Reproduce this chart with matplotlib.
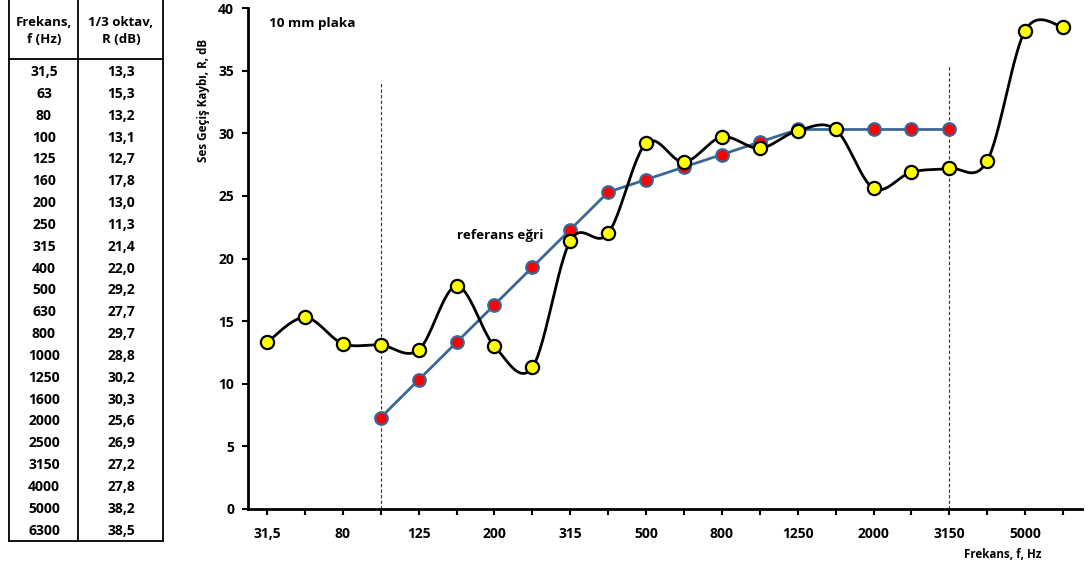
import numpy as np
import matplotlib
matplotlib.use("Agg")
import matplotlib.pyplot as plt
from matplotlib.lines import Line2D

plt.rcParams['font.family'] = ['Open Sans', 'DejaVu Sans']
plt.rcParams['font.weight'] = 'bold'

freq_labels = ["31,5", "63", "80", "100", "125", "160", "200", "250", "315", "400", "500",
               "630", "800", "1000", "1250", "1600", "2000", "2500", "3150", "4000", "5000", "6300"]
measured = [13.3, 15.3, 13.2, 13.1, 12.7, 17.8, 13.0, 11.3, 21.4, 22.0, 29.2,
            27.7, 29.7, 28.8, 30.2, 30.3, 25.6, 26.9, 27.2, 27.8, 38.2, 38.5]
ref_labels = ["100", "125", "160", "200", "250", "315", "400", "500",
              "630", "800", "1000", "1250", "1600", "2000", "2500", "3150"]
reference = [7.3, 10.3, 13.3, 16.3, 19.3, 22.3, 25.3, 26.3,
             27.3, 28.3, 29.3, 30.3, 30.3, 30.3, 30.3, 30.3]
shown_ticks = ["31,5", "80", "125", "200", "315", "500", "800", "1250", "2000", "3150", "5000"]
vline_labels = ["100", "3150"]
vline_tops = [34.2, 35.4]

W, H = 1086, 569
fig = plt.figure(figsize=(W / 100, H / 100), dpi=100)

def fx(px):
    return px / W

def fy(py):
    return 1 - py / H

ax = fig.add_axes([fx(248), fy(509), fx(1082) - fx(248), fy(8) - fy(509)])

xi = np.arange(len(freq_labels))
ref_x = np.array([freq_labels.index(l) for l in ref_labels])

def smooth(x, y, n=30):
    x = np.asarray(x, float); y = np.asarray(y, float)
    P = np.column_stack([x, y])
    out = []
    for i in range(len(P) - 1):
        p0 = P[i - 1] if i > 0 else P[i]
        p1 = P[i]; p2 = P[i + 1]
        p3 = P[i + 2] if i + 2 < len(P) else P[i + 1]
        c1 = p1 + (p2 - p0) / 6.0
        c2 = p2 - (p3 - p1) / 6.0
        t = np.linspace(0, 1, n)[:, None]
        seg = (1 - t) ** 3 * p1 + 3 * (1 - t) ** 2 * t * c1 + 3 * (1 - t) * t ** 2 * c2 + t ** 3 * p2
        out.append(seg if i == 0 else seg[1:])
    s = np.vstack(out)
    return s[:, 0], s[:, 1]

# vertical dashed lines
for lab, top in zip(vline_labels, vline_tops):
    xv = freq_labels.index(lab)
    ax.plot([xv, xv], [0, top], color='#333333', lw=0.8, ls=(0, (3, 2)), zorder=1)

# reference curve
ax.plot(ref_x, reference, color='#3A6795', lw=2.0, zorder=2,
        marker='o', markersize=9, markerfacecolor='#FF0000',
        markeredgecolor='#3A6795', markeredgewidth=1.6)

# measured curve (smoothed)
sx, sy = smooth(xi, measured)
ax.plot(sx, sy, color='black', lw=2.0, zorder=3)
ax.plot(xi, measured, ls='none', marker='o', markersize=9.5,
        markerfacecolor='#FFFF00', markeredgecolor='black', markeredgewidth=1.6, zorder=4)

ax.set_xlim(-0.5, len(freq_labels) - 0.5)
ax.set_ylim(0, 40)
ax.set_yticks(np.arange(0, 41, 5))
ax.set_xticks(xi)
ax.set_xticklabels([l if l in shown_ticks else "" for l in freq_labels])
for s in ['top', 'right']:
    ax.spines[s].set_visible(False)
for s in ['left', 'bottom']:
    ax.spines[s].set_linewidth(2.0)
    ax.spines[s].set_color('black')
ax.tick_params(axis='both', direction='out', length=4, width=1.5, labelsize=10)
ax.tick_params(axis='x', pad=9)
ax.tick_params(axis='y', pad=6)
for t in ax.get_xticklabels() + ax.get_yticklabels():
    t.set_fontweight('bold')

fig.text(fx(269), fy(24), "10 mm plaka", ha='left', va='center', fontsize=9.7, fontweight='bold')
fig.text(fx(500), fy(236), "referans eğri", ha='center', va='center', fontsize=9.7, fontweight='bold')
fig.text(fx(203), fy(100), "Ses Geçiş Kaybı, R, dB", rotation=90, ha='center', va='center',
         fontsize=8.4, fontweight='bold')
fig.text(fx(1003), fy(555), "Frekans, f, Hz", ha='center', va='center', fontsize=8.4, fontweight='bold')

# table on the left
lc = 'black'
for xpix in (9, 78, 163):
    fig.add_artist(Line2D([fx(xpix), fx(xpix)], [fy(0), fy(541)], color=lc, lw=1.3))
for ypix in (59, 541):
    fig.add_artist(Line2D([fx(9), fx(163)], [fy(ypix), fy(ypix)], color=lc, lw=1.3))
fig.text(fx(44), fy(31), "Frekans,\nf (Hz)", ha='center', va='center', fontsize=9.5,
         fontweight='bold', linespacing=1.45)
fig.text(fx(121), fy(31), "1/3 oktav,\nR (dB)", ha='center', va='center', fontsize=9.5,
         fontweight='bold', linespacing=1.45)
row0, dy = 72, 21.84
for i, (f, r) in enumerate(zip(freq_labels, measured)):
    yy = fy(row0 + i * dy)
    fig.text(fx(44), yy, f, ha='center', va='center', fontsize=10, fontweight='bold')
    fig.text(fx(121), yy, f"{r:.1f}".replace('.', ','), ha='center', va='center',
             fontsize=10, fontweight='bold')

fig.savefig("out.png", dpi=100)
